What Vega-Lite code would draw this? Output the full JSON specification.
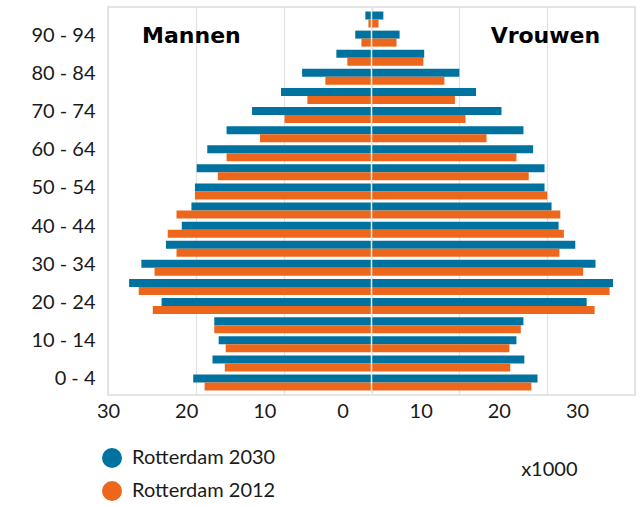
{
  "$schema": "https://vega.github.io/schema/vega-lite/v6.json",
  "autosize": {"type": "none"},
  "padding": {"left": 108, "top": 7, "right": 8, "bottom": 112},
  "width": 527,
  "height": 388,
  "config": {
    "font": "Lato",
    "view": {"stroke": "#dcdcdc", "strokeWidth": 1.5},
    "axis": {"gridColor": "#e2e2e2", "gridWidth": 1.2},
    "legend": {"padding": 0}
  },
  "data": {"values": [
    {"age": "95+", "sex": "Mannen", "Rotterdam 2030": 0.7, "Rotterdam 2012": 0.35},
    {"age": "90 - 94", "sex": "Mannen", "Rotterdam 2030": 1.85, "Rotterdam 2012": 1.15},
    {"age": "85 - 89", "sex": "Mannen", "Rotterdam 2030": 4.0, "Rotterdam 2012": 2.75},
    {"age": "80 - 84", "sex": "Mannen", "Rotterdam 2030": 7.9, "Rotterdam 2012": 5.25},
    {"age": "75 - 79", "sex": "Mannen", "Rotterdam 2030": 10.3, "Rotterdam 2012": 7.3},
    {"age": "70 - 74", "sex": "Mannen", "Rotterdam 2030": 13.6, "Rotterdam 2012": 9.9},
    {"age": "65 - 69", "sex": "Mannen", "Rotterdam 2030": 16.5, "Rotterdam 2012": 12.7},
    {"age": "60 - 64", "sex": "Mannen", "Rotterdam 2030": 18.7, "Rotterdam 2012": 16.5},
    {"age": "55 - 59", "sex": "Mannen", "Rotterdam 2030": 19.9, "Rotterdam 2012": 17.5},
    {"age": "50 - 54", "sex": "Mannen", "Rotterdam 2030": 20.1, "Rotterdam 2012": 20.1},
    {"age": "45 - 49", "sex": "Mannen", "Rotterdam 2030": 20.5, "Rotterdam 2012": 22.2},
    {"age": "40 - 44", "sex": "Mannen", "Rotterdam 2030": 21.6, "Rotterdam 2012": 23.2},
    {"age": "35 - 39", "sex": "Mannen", "Rotterdam 2030": 23.4, "Rotterdam 2012": 22.2},
    {"age": "30 - 34", "sex": "Mannen", "Rotterdam 2030": 26.2, "Rotterdam 2012": 24.7},
    {"age": "25 - 29", "sex": "Mannen", "Rotterdam 2030": 27.6, "Rotterdam 2012": 26.5},
    {"age": "20 - 24", "sex": "Mannen", "Rotterdam 2030": 23.9, "Rotterdam 2012": 24.9},
    {"age": "15 - 19", "sex": "Mannen", "Rotterdam 2030": 17.9, "Rotterdam 2012": 17.9},
    {"age": "10 - 14", "sex": "Mannen", "Rotterdam 2030": 17.4, "Rotterdam 2012": 16.6},
    {"age": "5 - 9", "sex": "Mannen", "Rotterdam 2030": 18.1, "Rotterdam 2012": 16.7},
    {"age": "0 - 4", "sex": "Mannen", "Rotterdam 2030": 20.3, "Rotterdam 2012": 19.0},
    {"age": "95+", "sex": "Vrouwen", "Rotterdam 2030": 1.35, "Rotterdam 2012": 0.8},
    {"age": "90 - 94", "sex": "Vrouwen", "Rotterdam 2030": 3.2, "Rotterdam 2012": 2.85},
    {"age": "85 - 89", "sex": "Vrouwen", "Rotterdam 2030": 6.0, "Rotterdam 2012": 5.9},
    {"age": "80 - 84", "sex": "Vrouwen", "Rotterdam 2030": 10.0, "Rotterdam 2012": 8.3},
    {"age": "75 - 79", "sex": "Vrouwen", "Rotterdam 2030": 11.9, "Rotterdam 2012": 9.5},
    {"age": "70 - 74", "sex": "Vrouwen", "Rotterdam 2030": 14.8, "Rotterdam 2012": 10.7},
    {"age": "65 - 69", "sex": "Vrouwen", "Rotterdam 2030": 17.3, "Rotterdam 2012": 13.1},
    {"age": "60 - 64", "sex": "Vrouwen", "Rotterdam 2030": 18.4, "Rotterdam 2012": 16.5},
    {"age": "55 - 59", "sex": "Vrouwen", "Rotterdam 2030": 19.7, "Rotterdam 2012": 17.9},
    {"age": "50 - 54", "sex": "Vrouwen", "Rotterdam 2030": 19.7, "Rotterdam 2012": 20.0},
    {"age": "45 - 49", "sex": "Vrouwen", "Rotterdam 2030": 20.5, "Rotterdam 2012": 21.5},
    {"age": "40 - 44", "sex": "Vrouwen", "Rotterdam 2030": 21.3, "Rotterdam 2012": 21.9},
    {"age": "35 - 39", "sex": "Vrouwen", "Rotterdam 2030": 23.2, "Rotterdam 2012": 21.4},
    {"age": "30 - 34", "sex": "Vrouwen", "Rotterdam 2030": 25.5, "Rotterdam 2012": 24.1},
    {"age": "25 - 29", "sex": "Vrouwen", "Rotterdam 2030": 27.5, "Rotterdam 2012": 27.1},
    {"age": "20 - 24", "sex": "Vrouwen", "Rotterdam 2030": 24.5, "Rotterdam 2012": 25.4},
    {"age": "15 - 19", "sex": "Vrouwen", "Rotterdam 2030": 17.3, "Rotterdam 2012": 17.0},
    {"age": "10 - 14", "sex": "Vrouwen", "Rotterdam 2030": 16.5, "Rotterdam 2012": 15.7},
    {"age": "5 - 9", "sex": "Vrouwen", "Rotterdam 2030": 17.4, "Rotterdam 2012": 15.8},
    {"age": "0 - 4", "sex": "Vrouwen", "Rotterdam 2030": 18.9, "Rotterdam 2012": 18.2}
  ]},
  "transform": [{"fold": ["Rotterdam 2030", "Rotterdam 2012"], "as": ["series", "value"]}],
  "resolve": {"scale": {"x": "independent"}, "axis": {"x": "independent"}},
  "layer": [
    {
      "layer": [
        {
          "transform": [{"filter": {"field": "sex", "equal": "Mannen"}}],
          "mark": {"type": "bar"},
          "encoding": {
            "x": {"field": "value", "type": "quantitative",
              "scale": {"domain": [0, 30], "range": [263.5, 0], "nice": false},
              "axis": {"orient": "bottom", "values": [0, 10, 20, 30], "grid": true, "labels": false, "ticks": false, "domain": false, "title": null}},
            "y": {"field": "age", "type": "ordinal",
              "scale": {"domain": ["95+","90 - 94","85 - 89","80 - 84","75 - 79","70 - 74","65 - 69","60 - 64","55 - 59","50 - 54","45 - 49","40 - 44","35 - 39","30 - 34","25 - 29","20 - 24","15 - 19","10 - 14","5 - 9","0 - 4"], "paddingInner": 0.162, "paddingOuter": 0.236},
              "axis": {"title": null, "values": ["90 - 94","80 - 84","70 - 74","60 - 64","50 - 54","40 - 44","30 - 34","20 - 24","10 - 14","0 - 4"], "ticks": false, "domain": false, "labelFontSize": 20, "labelFont": "Lato", "labelColor": "#1a1a1a", "labelPadding": 13, "labelOffset": -3}},
            "yOffset": {"field": "series", "type": "nominal", "sort": ["Rotterdam 2030", "Rotterdam 2012"], "scale": {"paddingInner": 0, "paddingOuter": 0}},
            "color": {"field": "series", "type": "nominal",
              "scale": {"domain": ["Rotterdam 2030", "Rotterdam 2012"], "range": ["#00729f", "#ec661b"]},
              "legend": {"title": null, "orient": "none", "legendX": -6, "legendY": 441, "symbolType": "circle", "symbolSize": 400, "symbolStrokeWidth": 0, "symbolOpacity": 1, "labelFontSize": 20, "labelFont": "Lato", "labelColor": "#1a1a1a", "rowPadding": 13, "labelOffset": 10}}
          }
        },
        {
          "data": {"values": [{"label": "Mannen"}]},
          "mark": {"type": "text", "font": "DejaVu Sans", "fontWeight": "bold", "fontSize": 22, "color": "#000000", "baseline": "middle", "dy": -3},
          "encoding": {
            "text": {"field": "label"},
            "x": {"datum": 20.5, "type": "quantitative"},
            "y": {"datum": "90 - 94", "type": "ordinal"}
          }
        }
      ]
    },
    {
      "layer": [
        {
          "transform": [{"filter": {"field": "sex", "equal": "Vrouwen"}}],
          "mark": {"type": "bar"},
          "encoding": {
            "x": {"field": "value", "type": "quantitative",
              "scale": {"domain": [0, 30], "range": [263.5, 527], "nice": false},
              "axis": {"orient": "bottom", "values": [0, 10, 20, 30], "grid": true, "labels": false, "ticks": false, "domain": false, "title": null}},
            "y": {"field": "age", "type": "ordinal",
              "axis": {"title": null, "values": ["90 - 94","80 - 84","70 - 74","60 - 64","50 - 54","40 - 44","30 - 34","20 - 24","10 - 14","0 - 4"], "ticks": false, "domain": false, "labelFontSize": 20, "labelFont": "Lato", "labelColor": "#1a1a1a", "labelPadding": 13, "labelOffset": -3}},
            "yOffset": {"field": "series", "type": "nominal", "sort": ["Rotterdam 2030", "Rotterdam 2012"], "scale": {"paddingInner": 0, "paddingOuter": 0}},
            "color": {"field": "series", "type": "nominal"}
          }
        },
        {
          "data": {"values": [{}]},
          "mark": {"type": "rule", "color": "#eeeeee", "strokeWidth": 1.5},
          "encoding": {"x": {"datum": 0, "type": "quantitative"}}
        },
        {
          "data": {"values": [{"label": "Vrouwen"}]},
          "mark": {"type": "text", "font": "DejaVu Sans", "fontWeight": "bold", "fontSize": 22, "color": "#000000", "baseline": "middle", "dy": -3},
          "encoding": {
            "text": {"field": "label"},
            "x": {"datum": 19.8, "type": "quantitative"},
            "y": {"datum": "90 - 94", "type": "ordinal"}
          }
        }
      ]
    },
    {
      "data": {"values": [{}]},
      "mark": {"type": "rule", "opacity": 0},
      "encoding": {
        "x": {"datum": 0, "type": "quantitative",
          "scale": {"domain": [-30, 30], "range": [0, 469], "nice": false},
          "axis": {"orient": "bottom", "values": [-30, -20, -10, 0, 10, 20, 30], "labelExpr": "'' + abs(datum.value)", "labelFlush": false, "labelOverlap": false, "grid": false, "ticks": false, "tickSize": 0, "domain": false, "labelPadding": 6, "labelFontSize": 20, "labelFont": "Lato", "labelColor": "#1a1a1a", "title": "x1000", "titleAnchor": "end", "titleFontSize": 20, "titleFont": "Lato", "titleFontWeight": "normal", "titleColor": "#1a1a1a", "titlePadding": 38}}
      }
    }
  ]
}
